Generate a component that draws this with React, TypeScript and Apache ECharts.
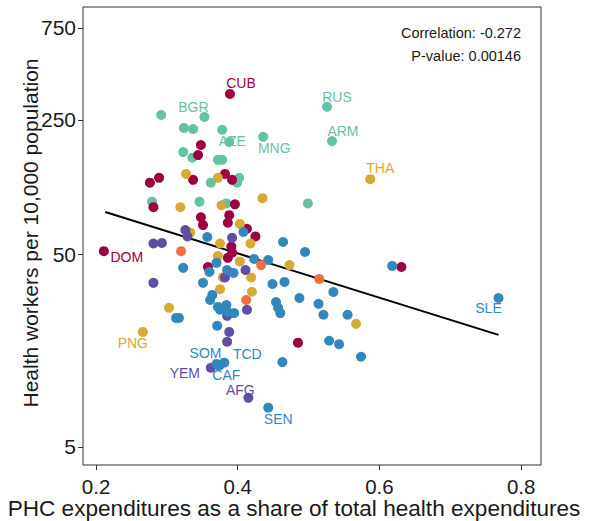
import React, { useEffect, useRef } from "react";
import * as echarts from "echarts";

type Pt = [number, number, string?];

// x: PHC share of total health expenditures, y: health workers per 10,000
const tealPts: Pt[] = [
  [0.292, 265], [0.353, 259, "BGR"], [0.324, 227], [0.337, 224], [0.378, 222],
  [0.388, 192, "AZE"], [0.436, 204, "MNG"], [0.526, 292, "RUS"], [0.533, 194, "ARM"],
  [0.323, 170], [0.336, 159], [0.372, 155], [0.378, 155], [0.362, 118], [0.402, 125],
  [0.399, 118], [0.279, 94], [0.346, 94], [0.384, 92], [0.499, 92],
];
const crimsonPts: Pt[] = [
  [0.389, 341, "CUB"], [0.348, 185], [0.344, 164], [0.276, 118], [0.289, 125],
  [0.337, 122], [0.382, 131], [0.392, 122], [0.281, 88], [0.396, 91], [0.348, 78],
  [0.351, 71], [0.388, 80], [0.386, 73], [0.413, 68], [0.425, 62], [0.391, 55],
  [0.392, 51], [0.386, 48], [0.358, 43], [0.211, 52, "DOM"], [0.631, 43], [0.485, 17.4],
];
const goldPts: Pt[] = [
  [0.327, 131], [0.372, 125], [0.435, 98], [0.319, 88], [0.377, 90], [0.403, 72],
  [0.333, 65], [0.375, 57], [0.418, 57], [0.372, 49], [0.403, 46], [0.473, 44],
  [0.379, 38], [0.419, 38], [0.375, 33], [0.42, 32], [0.303, 26.4], [0.266, 19.8, "PNG"],
  [0.567, 21.8], [0.587, 123, "THA"],
];
const purplePts: Pt[] = [
  [0.326, 67], [0.329, 62], [0.392, 61], [0.281, 57], [0.293, 57.4], [0.411, 41.5],
  [0.281, 35.6], [0.382, 38], [0.413, 25.8], [0.385, 24], [0.388, 19.8], [0.385, 17.6],
  [0.362, 12.9, "YEM"], [0.415, 9.0, "AFG"],
];
const bluePts: Pt[] = [
  [0.408, 65.4], [0.357, 61.6], [0.464, 58], [0.495, 51.5], [0.423, 47.4], [0.443, 46.8],
  [0.37, 45.2], [0.323, 42.6], [0.36, 40.6], [0.385, 41.5], [0.394, 40.1], [0.351, 35.6],
  [0.449, 35.1], [0.466, 36], [0.364, 30.8], [0.361, 29], [0.454, 28.3], [0.457, 26.4],
  [0.46, 24.8], [0.487, 29.7], [0.372, 26.7], [0.384, 27.3], [0.375, 25.8], [0.386, 25.1],
  [0.395, 24.8], [0.313, 23.4], [0.317, 23.4], [0.371, 21.3], [0.535, 31.9], [0.514, 27.7],
  [0.521, 24.3], [0.555, 24.3], [0.529, 17.8], [0.543, 17.1], [0.574, 14.7], [0.618, 43.6],
  [0.768, 29.7, "SLE"], [0.37, 13.5, "SOM"], [0.374, 13.2, "CAF"], [0.381, 13.7, "TCD"],
  [0.463, 13.8], [0.443, 8.0, "SEN"],
];
const orangePts: Pt[] = [
  [0.32, 52], [0.433, 44], [0.412, 29], [0.515, 37.3],
];

const fitX = [0.213, 0.768];
const fitY = [83.1, 19.1];

const xTicks = [0.2, 0.4, 0.6, 0.8];
const yTicks = [5, 50, 250, 750];
const corrText = "Correlation: -0.272";
const pvalText = "P-value: 0.00146";
const xTitle = "PHC expenditures as a share of total health expenditures";
const yTitle = "Health workers per 10,000 population";

// presentation settings
const FONT = "'Liberation Sans', Arial, Helvetica, sans-serif";
const LABEL_OFFSETS: Record<string, [number, number]> = {
  CUB: [11, -11], BGR: [-11, -10], AZE: [3, -1], MNG: [11, 11], RUS: [10, -10],
  ARM: [11, -10], THA: [10, -11], DOM: [23, 6], PNG: [-10, 11], SLE: [-10, 10],
  SOM: [-11, -11], TCD: [23, -9], CAF: [7, 9], YEM: [-26, 5], AFG: [-8, -8], SEN: [10, 11],
};

function makeSeries(name: string, pts: Pt[], color: string) {
  return {
    type: "scatter",
    name,
    symbol: "circle",
    symbolSize: 10,
    itemStyle: { color, opacity: 1 },
    emphasis: { disabled: true },
    z: 3,
    data: pts.map((p) => {
      const item: any = { value: [p[0], Math.log10(p[1])] };
      if (p[2]) {
        item.name = p[2];
        item.label = {
          show: true,
          formatter: p[2],
          position: "inside",
          offset: LABEL_OFFSETS[p[2]] || [0, 0],
          color,
          fontSize: 14,
          fontFamily: FONT,
        };
      }
      return item;
    }),
  };
}

export default function App() {
  const ref = useRef<HTMLDivElement>(null);
  useEffect(() => {
    if (!ref.current) return;
    const chart = echarts.init(ref.current, undefined, { renderer: "svg" });
    const option: any = {
      animation: false,
      backgroundColor: "#ffffff",
      grid: {
        left: 83, top: 7, width: 458, height: 458,
        show: true, borderColor: "#333333", borderWidth: 1, backgroundColor: "transparent",
      },
      xAxis: {
        type: "value",
        min: 0.1816,
        max: 0.828,
        splitLine: { show: false },
        axisLine: { show: false },
        axisTick: { show: true, customValues: xTicks, length: 5, lineStyle: { color: "#333333" } },
        axisLabel: {
          customValues: xTicks,
          formatter: (v: number) => v.toFixed(1),
          color: "#1a1a1a",
          fontSize: 20.5,
          lineHeight: 20,
          fontFamily: FONT,
          margin: 11,
        },
      },
      yAxis: {
        type: "value",
        min: Math.log10(4.03),
        max: Math.log10(964),
        splitLine: { show: false },
        axisLine: { show: false },
        axisTick: { show: true, customValues: yTicks.map((t) => Math.log10(t)), length: 5, lineStyle: { color: "#333333" } },
        axisLabel: {
          customValues: yTicks.map((t) => Math.log10(t)),
          formatter: (v: number) => String(Math.round(Math.pow(10, v))),
          color: "#1a1a1a",
          fontSize: 21,
          fontFamily: FONT,
          margin: 7,
        },
      },
      series: [
        makeSeries("teal", tealPts, "#66c2a5"),
        makeSeries("crimson", crimsonPts, "#9e0142"),
        makeSeries("gold", goldPts, "#d6aa34"),
        makeSeries("purple", purplePts, "#5e4fa2"),
        makeSeries("blue", bluePts, "#3288bd"),
        makeSeries("orange", orangePts, "#f46d43"),
        {
          type: "line",
          name: "fit",
          data: fitX.map((x, i) => [x, Math.log10(fitY[i])]),
          symbol: "none",
          lineStyle: { color: "#000000", width: 2 },
          z: 2,
          silent: true,
        },
      ],
      graphic: [
        {
          type: "text", x: 521, y: 33,
          style: { text: corrText, align: "right", verticalAlign: "middle", fontSize: 14.5, fontFamily: FONT, fill: "#1a1a1a" },
        },
        {
          type: "text", x: 521, y: 56,
          style: { text: pvalText, align: "right", verticalAlign: "middle", fontSize: 14.5, fontFamily: FONT, fill: "#1a1a1a" },
        },
        {
          type: "text", x: 294, y: 508,
          style: { text: xTitle, align: "center", verticalAlign: "middle", fontSize: 22.6, lineHeight: 22, fontFamily: FONT, fill: "#1a1a1a" },
        },
        {
          type: "text", x: 30, y: 233, rotation: Math.PI / 2,
          style: { text: yTitle, align: "center", verticalAlign: "middle", fontSize: 21, fontFamily: FONT, fill: "#1a1a1a" },
        },
      ],
    };
    chart.setOption(option);
    return () => chart.dispose();
  }, []);
  return (
    <div
      ref={ref}
      style={{ position: "absolute", left: 0, top: 0, width: 599, height: 521, background: "#fff" }}
    />
  );
}
